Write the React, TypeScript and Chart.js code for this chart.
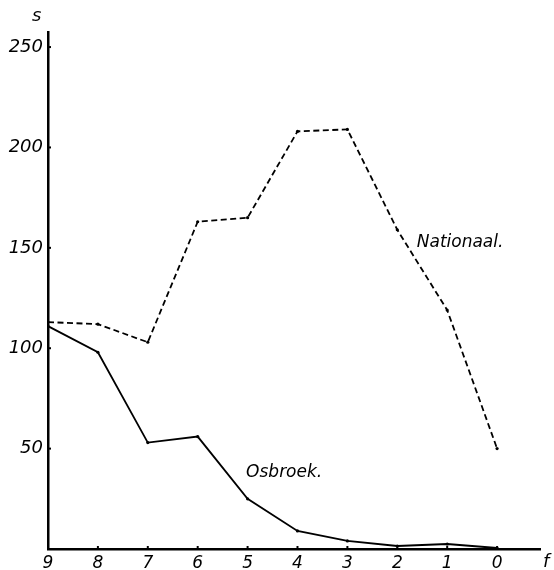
import React, { useEffect, useRef } from "react";
import { Chart, registerables } from "chart.js";

Chart.register(...registerables);

const categories = [9, 8, 7, 6, 5, 4, 3, 2, 1, 0];
const nationaal = [113, 112, 103, 163, 165, 208, 209, 159, 119, 50];
const osbroek = [111, 98, 53, 56, 25, 9, 4, 1.5, 2.5, 0.5];
const yTickValues = [50, 100, 150, 200, 250];
const xTickValues = [9, 8, 7, 6, 5, 4, 3, 2, 1, 0];
const seriesLabels = [
  { text: "Nationaal.", x: 1.61, y: 150.4 },
  { text: "Osbroek.", x: 5.03, y: 35.9 },
];
const yAxisTitle = "s";
const xAxisTitle = "f";

const FONT = "'DejaVu Sans', sans-serif";

const textPlugin = {
  id: "textPlugin",
  afterDraw(chart: any) {
    const ctx = chart.ctx;
    const xs = chart.scales.x;
    const ys = chart.scales.y;
    const area = chart.chartArea;
    ctx.save();
    ctx.fillStyle = "#000";
    ctx.strokeStyle = "#000";
    // small tick marks inside the plot
    ctx.lineWidth = 2;
    yTickValues.forEach((v) => {
      const py = ys.getPixelForValue(v);
      ctx.beginPath();
      ctx.moveTo(area.left, py);
      ctx.lineTo(area.left + 3, py);
      ctx.stroke();
    });
    xTickValues.forEach((v) => {
      const px = xs.getPixelForValue(v);
      ctx.beginPath();
      ctx.moveTo(px, area.bottom);
      ctx.lineTo(px, area.bottom - 3);
      ctx.stroke();
    });
    ctx.font = `italic 17px ${FONT}`;
    ctx.textAlign = "left";
    ctx.textBaseline = "alphabetic";
    seriesLabels.forEach((l) => {
      ctx.fillText(l.text, xs.getPixelForValue(l.x), ys.getPixelForValue(l.y));
    });
    ctx.font = `italic 18px ${FONT}`;
    ctx.fillText(yAxisTitle, 32, 21);
    ctx.fillText(xAxisTitle, 543, 567);
    ctx.restore();
  },
};

export default function App() {
  const ref = useRef<HTMLCanvasElement | null>(null);
  useEffect(() => {
    if (!ref.current) return;
    const chart = new Chart(ref.current, {
      type: "line",
      data: {
        datasets: [
          {
            label: "Nationaal",
            data: categories.map((c, i) => ({ x: c, y: nationaal[i] })),
            borderColor: "#000",
            backgroundColor: "#000",
            borderWidth: 1.8,
            borderDash: [6, 3.5],
            pointRadius: 1.6,
            pointBorderWidth: 0,
            tension: 0,
          },
          {
            label: "Osbroek",
            data: categories.map((c, i) => ({ x: c, y: osbroek[i] })),
            borderColor: "#000",
            backgroundColor: "#000",
            borderWidth: 1.8,
            pointRadius: 1.6,
            pointBorderWidth: 0,
            tension: 0,
          },
        ],
      },
      options: {
        animation: false,
        responsive: false,
        maintainAspectRatio: false,
        layout: { padding: { top: 32, right: 14, left: 0, bottom: 0 } },
        plugins: { legend: { display: false }, tooltip: { enabled: false } },
        scales: {
          x: {
            type: "linear",
            reverse: true,
            min: -0.86,
            max: 9,
            afterBuildTicks: (s: any) => {
              s.ticks = xTickValues.map((v) => ({ value: v }));
            },
            afterFit: (s: any) => {
              s.height = 21;
            },
            grid: { display: false, drawTicks: false },
            border: { display: true, color: "#000", width: 2.5 },
            ticks: {
              padding: 4,
              color: "#000",
              font: { family: FONT, size: 17, style: "italic" },
              maxRotation: 0,
              autoSkip: false,
              callback: (v: any) => String(v),
            },
          },
          y: {
            type: "linear",
            min: 0,
            max: 257.5,
            afterBuildTicks: (s: any) => {
              s.ticks = yTickValues.map((v) => ({ value: v }));
            },
            afterFit: (s: any) => {
              s.width = 48;
            },
            grid: { display: false, drawTicks: false },
            border: { display: true, color: "#000", width: 2.5 },
            ticks: {
              padding: 5,
              color: "#000",
              font: { family: FONT, size: 18, style: "italic" },
              autoSkip: false,
              callback: (v: any) => String(v),
            },
          },
        },
      },
      plugins: [textPlugin],
    });
    return () => chart.destroy();
  }, []);
  return (
    <div style={{ position: "fixed", left: 0, top: 0, width: 554, height: 570, background: "#fff" }}>
      <canvas ref={ref} width={554} height={570} style={{ width: 554, height: 570 }} />
    </div>
  );
}
